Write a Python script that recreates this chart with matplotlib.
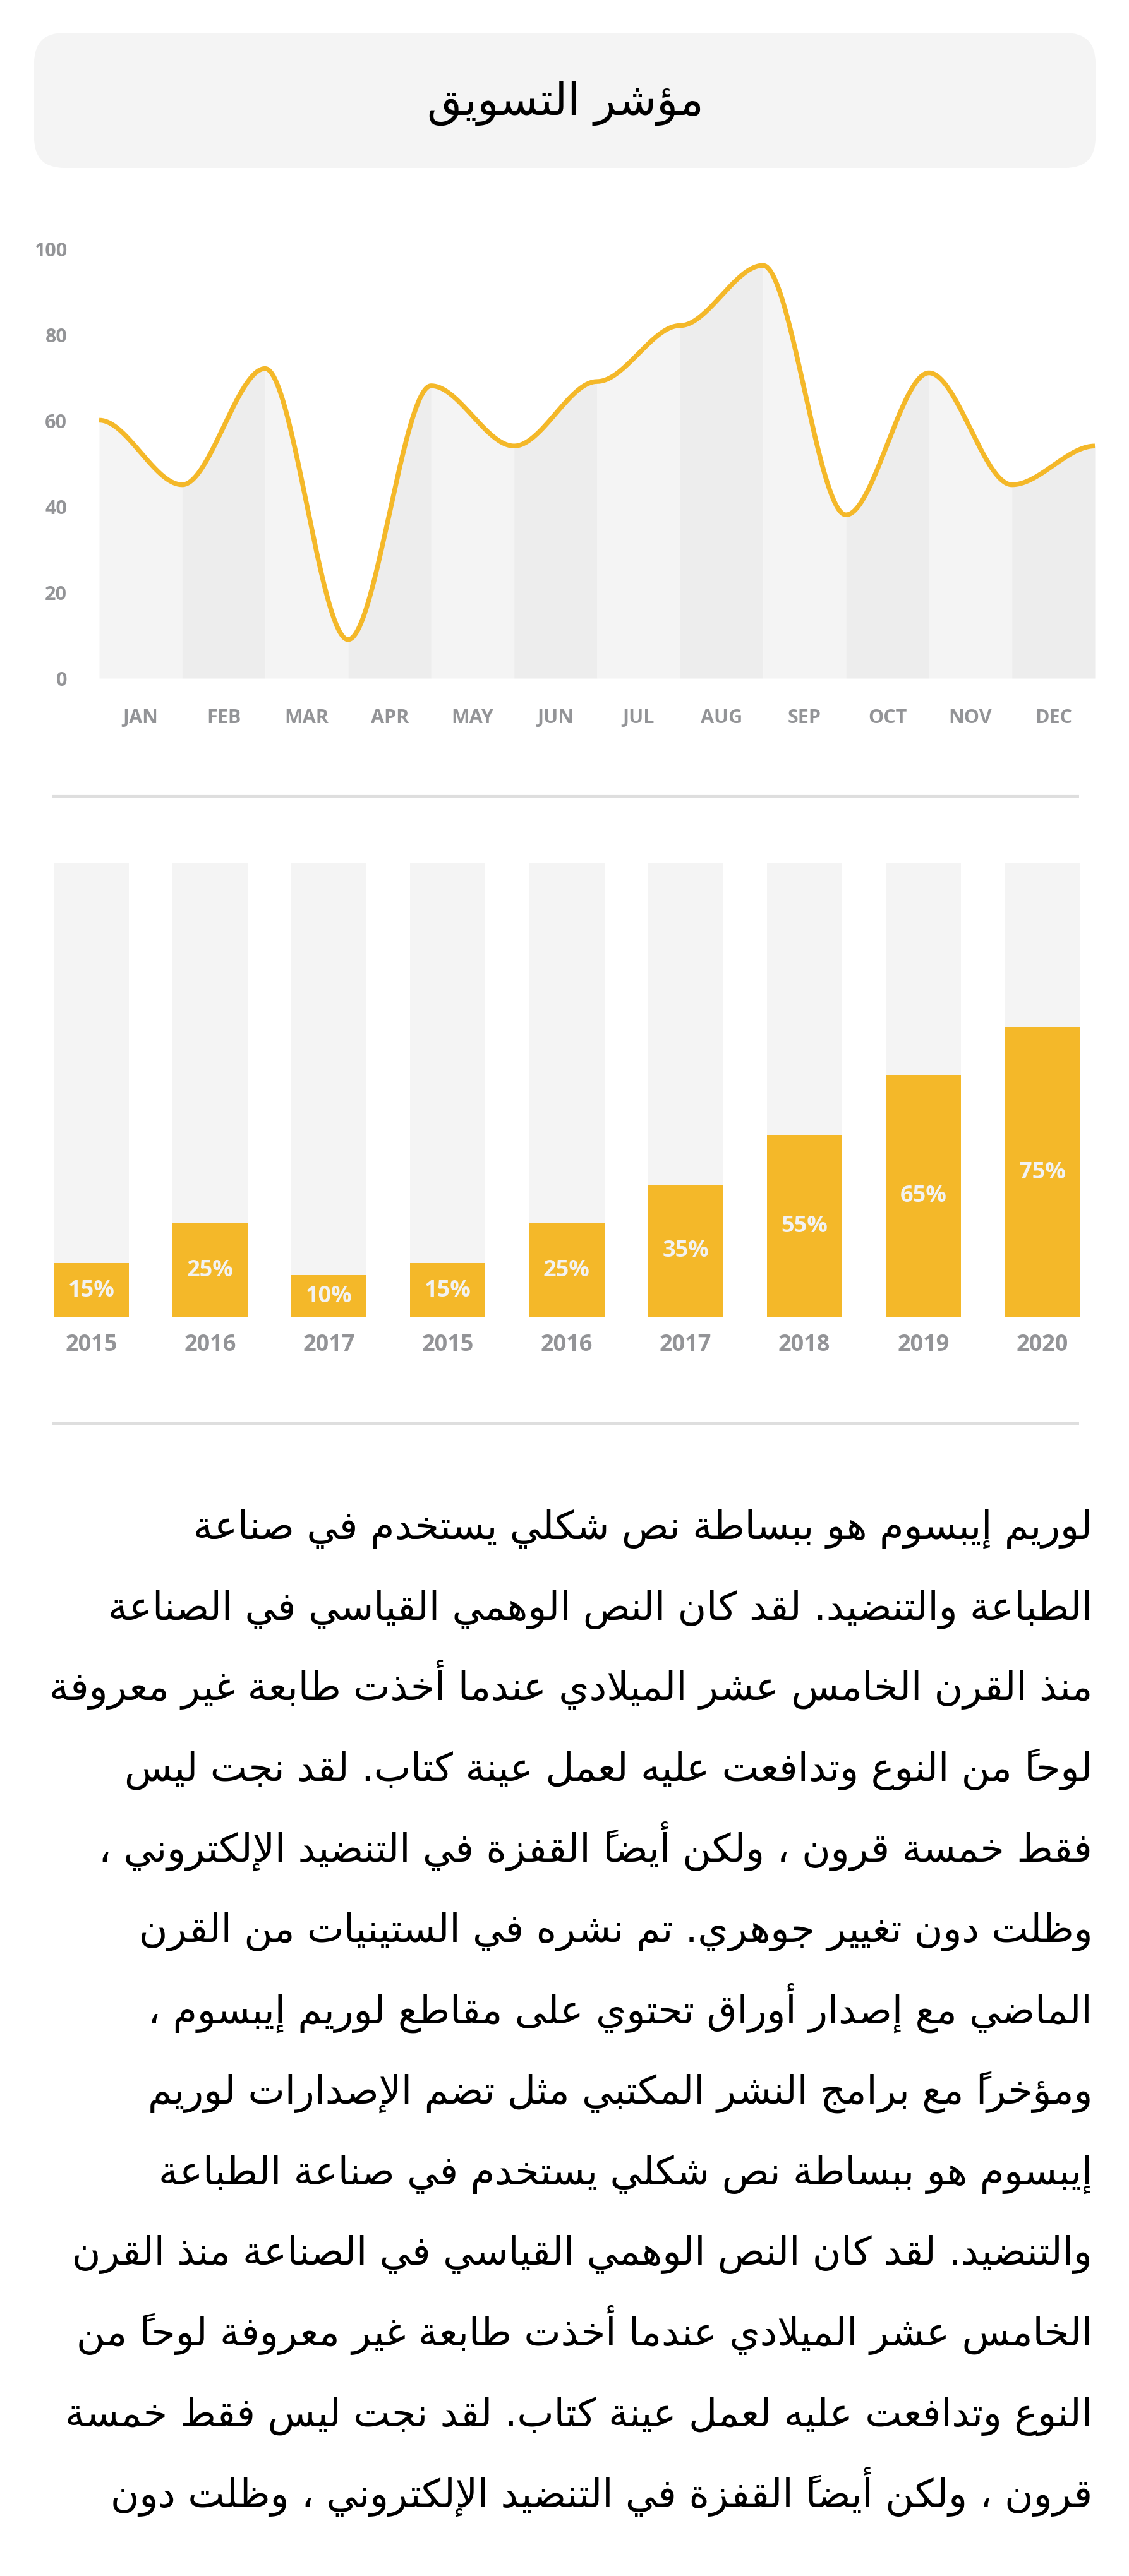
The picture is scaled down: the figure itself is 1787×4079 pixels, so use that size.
import numpy as np
import matplotlib
matplotlib.use("Agg")
import matplotlib.pyplot as plt
from matplotlib.patches import FancyBboxPatch

# ---------------- data ----------------
title_text = "مؤشر التسويق"

months = ["JAN", "FEB", "MAR", "APR", "MAY", "JUN",
          "JUL", "AUG", "SEP", "OCT", "NOV", "DEC"]
# curve values at the 13 band edges
line_values = [60, 45, 72, 9, 68, 54, 69, 82, 96, 38, 71, 45, 54]
y_ticks = [0, 20, 40, 60, 80, 100]

years = ["2015", "2016", "2017", "2015", "2016", "2017", "2018", "2019", "2020"]
bar_labels = [15, 25, 10, 15, 25, 35, 55, 65, 75]
bar_heights = [11.8, 20.7, 9.2, 11.8, 20.7, 29.1, 40.1, 53.3, 63.8]

paragraph_lines = [
    "لوريم إيبسوم هو ببساطة نص شكلي يستخدم في صناعة",
    "الطباعة والتنضيد. لقد كان النص الوهمي القياسي في الصناعة",
    "منذ القرن الخامس عشر الميلادي عندما أخذت طابعة غير معروفة",
    "لوحاً من النوع وتدافعت عليه لعمل عينة كتاب. لقد نجت ليس",
    "فقط خمسة قرون ، ولكن أيضاً القفزة في التنضيد الإلكتروني ،",
    "وظلت دون تغيير جوهري. تم نشره في الستينيات من القرن",
    "الماضي مع إصدار أوراق تحتوي على مقاطع لوريم إيبسوم ،",
    "ومؤخراً مع برامج النشر المكتبي مثل تضم الإصدارات لوريم",
    "إيبسوم هو ببساطة نص شكلي يستخدم في صناعة الطباعة",
    "والتنضيد. لقد كان النص الوهمي القياسي في الصناعة منذ القرن",
    "الخامس عشر الميلادي عندما أخذت طابعة غير معروفة لوحاً من",
    "النوع وتدافعت عليه لعمل عينة كتاب. لقد نجت ليس فقط خمسة",
    "قرون ، ولكن أيضاً القفزة في التنضيد الإلكتروني ، وظلت دون",
]

# ---------------- Arabic shaping (visual order for matplotlib) ----------------
_FORMS = {
    0x0621: (0xFE80, 1), 0x0622: (0xFE81, 2), 0x0623: (0xFE83, 2), 0x0624: (0xFE85, 2),
    0x0625: (0xFE87, 2), 0x0626: (0xFE89, 4), 0x0627: (0xFE8D, 2), 0x0628: (0xFE8F, 4),
    0x0629: (0xFE93, 2), 0x062A: (0xFE95, 4), 0x062B: (0xFE99, 4), 0x062C: (0xFE9D, 4),
    0x062D: (0xFEA1, 4), 0x062E: (0xFEA5, 4), 0x062F: (0xFEA9, 2), 0x0630: (0xFEAB, 2),
    0x0631: (0xFEAD, 2), 0x0632: (0xFEAF, 2), 0x0633: (0xFEB1, 4), 0x0634: (0xFEB5, 4),
    0x0635: (0xFEB9, 4), 0x0636: (0xFEBD, 4), 0x0637: (0xFEC1, 4), 0x0638: (0xFEC5, 4),
    0x0639: (0xFEC9, 4), 0x063A: (0xFECD, 4), 0x0641: (0xFED1, 4), 0x0642: (0xFED5, 4),
    0x0643: (0xFED9, 4), 0x0644: (0xFEDD, 4), 0x0645: (0xFEE1, 4), 0x0646: (0xFEE5, 4),
    0x0647: (0xFEE9, 4), 0x0648: (0xFEED, 2), 0x0649: (0xFEEF, 2), 0x064A: (0xFEF1, 4),
}
_LAM_ALEF = {0x0622: 0xFEF5, 0x0623: 0xFEF7, 0x0625: 0xFEF9, 0x0627: 0xFEFB}


def _is_mark(ch):
    o = ord(ch)
    return 0x064B <= o <= 0x065F or o == 0x0670


def shape_arabic(text):
    clusters = []
    for ch in text:
        if _is_mark(ch) and clusters:
            clusters[-1][1] += ch
        else:
            clusters.append([ch, ""])
    merged = []
    i = 0
    while i < len(clusters):
        b, m = clusters[i]
        if ord(b) == 0x0644 and i + 1 < len(clusters) and ord(clusters[i + 1][0]) in _LAM_ALEF:
            merged.append([("LA", _LAM_ALEF[ord(clusters[i + 1][0])]), m + clusters[i + 1][1]])
            i += 2
        else:
            merged.append([b, m])
            i += 1

    def nforms(c):
        if isinstance(c, tuple):
            return 2
        return _FORMS.get(ord(c), (None, 0))[1]

    out = []
    n = len(merged)
    for k, (b, m) in enumerate(merged):
        nf = nforms(b)
        if nf == 0:
            out.append(m + b)
            continue
        prev_join = k > 0 and nforms(merged[k - 1][0]) == 4
        next_join = nf == 4 and k + 1 < n and nforms(merged[k + 1][0]) > 0
        if isinstance(b, tuple):
            code = b[1] + (1 if prev_join else 0)
        else:
            base = _FORMS[ord(b)][0]
            if nf == 4:
                if prev_join and next_join:
                    code = base + 3
                elif prev_join:
                    code = base + 1
                elif next_join:
                    code = base + 2
                else:
                    code = base
            elif nf == 2:
                code = base + (1 if prev_join else 0)
            else:
                code = base
        # in visual (left-to-right) order the mark is placed just before its base
        out.append(m + chr(code))
    return "".join(reversed(out))


# ---------------- figure ----------------
W, H = 1787, 4080
DPI = 100
fig = plt.figure(figsize=(W / DPI, H / DPI), dpi=DPI)
fig.patch.set_facecolor("white")

LATIN = ["Open Sans", "DejaVu Sans"]
ARABIC = ["DejaVu Sans"]
GRAY = "#939497"
YELLOW = "#F4B829"


def px_rect(l, t, r, b):
    return [l / W, 1 - b / H, (r - l) / W, (b - t) / H]


# background / decoration layer in pixel coordinates
bg = fig.add_axes([0, 0, 1, 1])
bg.set_xlim(0, W)
bg.set_ylim(H, 0)
bg.axis("off")
bg.set_zorder(0)

box = FancyBboxPatch((54, 53), 1734 - 54, 267 - 53,
                     boxstyle="round,pad=0,rounding_size=48",
                     facecolor="#f4f4f4", edgecolor="none")
bg.add_patch(box)
bg.text(895, 182, shape_arabic(title_text), ha="center", va="baseline",
        fontsize=51, family=ARABIC, color="black")

# separators
for yy in (1262, 2255):
    bg.plot([83, 1708], [yy, yy], color="#dedede", lw=3, solid_capstyle="butt")

# paragraph
for i, line in enumerate(paragraph_lines):
    bg.text(1729, 2437 + i * 127.7, shape_arabic(line), ha="right", va="baseline",
            fontsize=44.5, family=ARABIC, color="black")

# ---------------- line chart ----------------
ax = fig.add_axes(px_rect(157, 394, 1733, 1075))
ax.set_zorder(1)
ax.patch.set_alpha(0)
ax.set_xlim(0, 12)
ax.set_ylim(0, 100)
xs_all, ys_all = [], []
band_colors = ["#f4f4f4", "#ededed"]
for i in range(12):
    t = np.linspace(0, 1, 80)
    s = 3 * t ** 2 - 2 * t ** 3
    xseg = i + t
    yseg = line_values[i] + (line_values[i + 1] - line_values[i]) * s
    ax.fill_between(xseg, 0, yseg, color=band_colors[i % 2], lw=0)
    xs_all.append(xseg)
    ys_all.append(yseg)
ax.plot(np.concatenate(xs_all), np.concatenate(ys_all), color=YELLOW, lw=5.4,
        solid_capstyle="butt", solid_joinstyle="round", clip_on=False)
for sp in ax.spines.values():
    sp.set_visible(False)
ax.set_yticks(y_ticks)
ax.set_yticklabels([str(v) for v in y_ticks])
ax.set_xticks(np.arange(12) + 0.5)
ax.set_xticklabels(months)
ax.tick_params(axis="y", length=0, pad=36.5, labelsize=22, labelcolor=GRAY)
ax.tick_params(axis="x", length=0, pad=34, labelsize=22, labelcolor=GRAY)
for lab in ax.get_xticklabels() + ax.get_yticklabels():
    lab.set_fontweight("bold")
    lab.set_family(LATIN)

# ---------------- bar chart ----------------
bx = fig.add_axes(px_rect(50.5, 1367, 1743.5, 2086))
bx.set_zorder(1)
bx.patch.set_alpha(0)
xpos = np.arange(len(years))
bx.bar(xpos, [100] * len(years), width=0.633, color="#f4f4f4", lw=0)
bx.bar(xpos, bar_heights, width=0.633, color=YELLOW, lw=0)
bx.set_xlim(-0.5, len(years) - 0.5)
bx.set_ylim(0, 100)
for xi, h, lab in zip(xpos, bar_heights, bar_labels):
    bx.text(xi, h / 2, f"{lab}%", ha="center", va="center", fontsize=26,
            fontweight="bold", family=LATIN, color="#f2f2f2")
for sp in bx.spines.values():
    sp.set_visible(False)
bx.set_yticks([])
bx.set_xticks(xpos)
bx.set_xticklabels(years)
bx.tick_params(axis="x", length=0, pad=18.5, labelsize=26, labelcolor=GRAY)
for lab in bx.get_xticklabels():
    lab.set_fontweight("bold")
    lab.set_family(LATIN)

fig.savefig("out.png", dpi=DPI, facecolor="white")
